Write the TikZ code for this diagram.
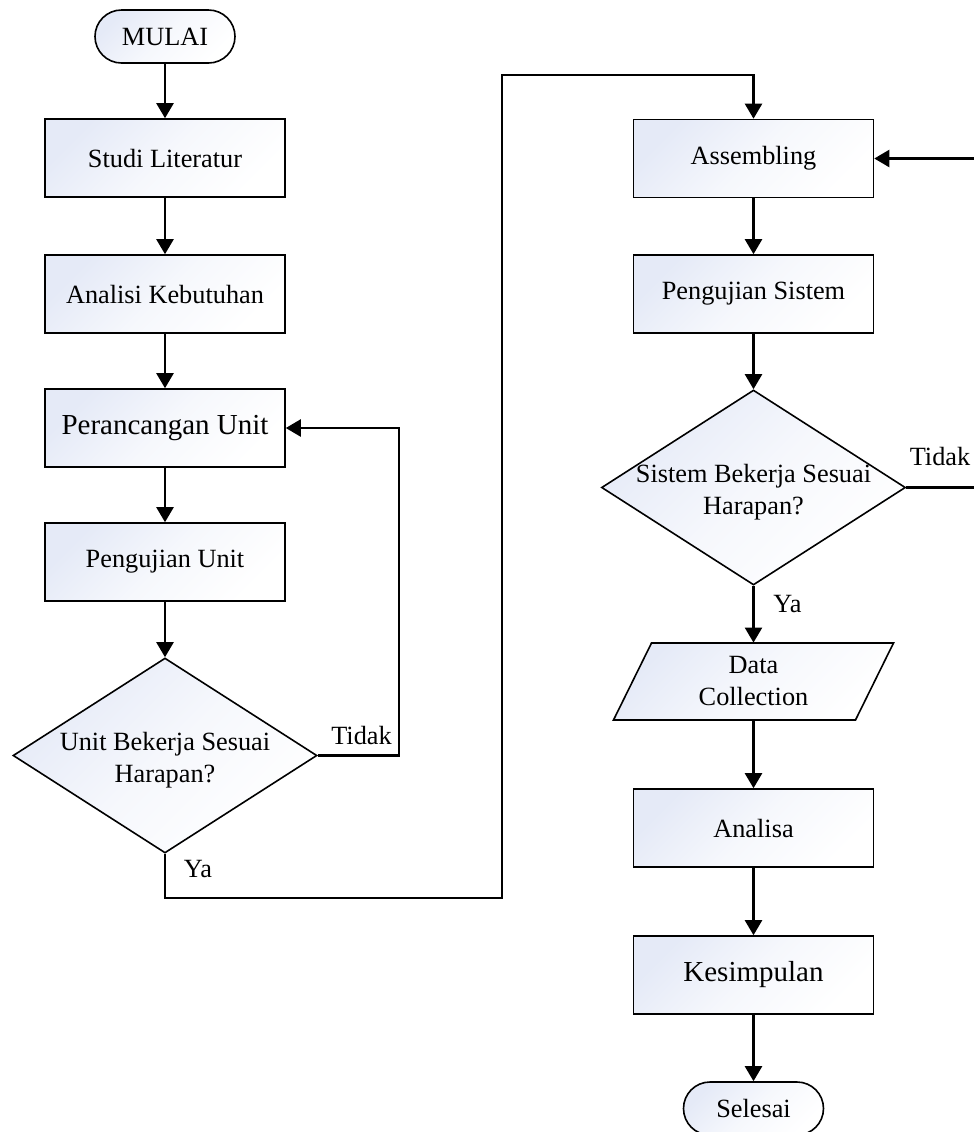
\documentclass[tikz,border=0pt]{standalone}
\usepackage{fontspec}
\setmainfont{Liberation Serif}
\usetikzlibrary{arrows.meta,shapes.geometric}
\definecolor{fillc}{RGB}{229,234,247}
\tikzset{
  base/.style={font=\fontsize{13.15pt}{16pt}\selectfont},
  big/.style={font=\fontsize{14.5pt}{17pt}\selectfont},
  shadefill/.style={top color=fillc, bottom color=white, middle color=fillc!35!white, shading angle=45},
  procbox/.style={base, draw, line width=0.8pt, shadefill, minimum width=120pt, minimum height=39pt, inner sep=0pt},
  term/.style={base, draw, line width=0.8pt, shadefill, rounded corners=13.25pt, minimum width=70pt, minimum height=26.5pt, inner sep=0pt},
  decision/.style={diamond, draw, line width=0.8pt, shadefill, minimum width=152pt, minimum height=97.5pt, inner sep=0pt},
  dectext/.style={base, align=center, inner sep=0pt},
  flow/.style={line width=1.15pt, -{Triangle[length=7.5pt,width=8.5pt]}},
  lbl/.style={base, anchor=base, inner sep=0pt},
}
\begin{document}
\begin{tikzpicture}[x=0.5pt,y=-0.5pt]
\useasboundingbox (0,0) rectangle (974,1132);
\clip (0,0) rectangle (974,1132);

% left column
\node[term] (mulai) at (165,36.5) {MULAI};
\node[procbox] (studi) at (165,158) {Studi Literatur};
\node[procbox] (analisi) at (165,294) {Analisi Kebutuhan};
\node[procbox, big] (rancang) at (165,428) {Perancangan Unit};
\node[procbox] (ujiunit) at (165,562) {Pengujian Unit};
\node[decision] (d1) at (165,755.5) {};
\node[dectext] (d1t) at (165,760) {Unit Bekerja Sesuai\\Harapan?};

% right column
\node[procbox] (asm) at (753.5,158.5) {Assembling};
\node[procbox] (ujisis) at (753.5,294) {Pengujian Sistem};
\node[decision] (d2) at (753.5,487.5) {};
\node[dectext] (d2t) at (753.5,492) {Sistem Bekerja Sesuai\\Harapan?};
\path[draw, line width=0.8pt, shadefill] (651.5,643) -- (893.5,643) -- (855.5,720) -- (613.5,720) -- cycle;
\node[dectext, minimum height=38.5pt] (dc) at (753.5,681.5) {Data\\Collection};
\node[procbox] (analisa) at (753.5,828) {Analisa};
\node[procbox, big] (simpul) at (753.5,975) {Kesimpulan};
\node[term] (selesai) at (753.5,1108.5) {Selesai};

% bends of the long connectors
\coordinate (ya1) at (502,898);
\coordinate (ya2) at (502,75);
\coordinate (tl) at (399,755.5);
\coordinate (tr) at (1000,487.5);

% main flow
\draw[flow] (mulai) -- (studi);
\draw[flow] (studi) -- (analisi);
\draw[flow] (analisi) -- (rancang);
\draw[flow] (rancang) -- (ujiunit);
\draw[flow] (ujiunit) -- (d1.north);
\draw[flow] (d1.south) |- (ya1) -- (ya2) -| (asm.north);
\draw[flow] (d1.east) -- (tl) |- (rancang.east);
\draw[flow] (asm) -- (ujisis);
\draw[flow] (ujisis) -- (d2.north);
\draw[flow] (d2.south) -- (dc.north);
\draw[flow] (dc.south) -- (analisa);
\draw[flow] (analisa) -- (simpul);
\draw[flow] (simpul) -- (selesai);
\draw[flow] (d2.east) -- (tr) |- (asm.east);

% branch labels
\node[lbl] (tidak1) at (361.5,744) {Tidak};
\node[lbl] (yaL) at (198,877) {Ya};
\node[lbl] (tidak2) at (940,465) {Tidak};
\node[lbl] (yaR) at (787.5,612) {Ya};
\end{tikzpicture}
\end{document}
